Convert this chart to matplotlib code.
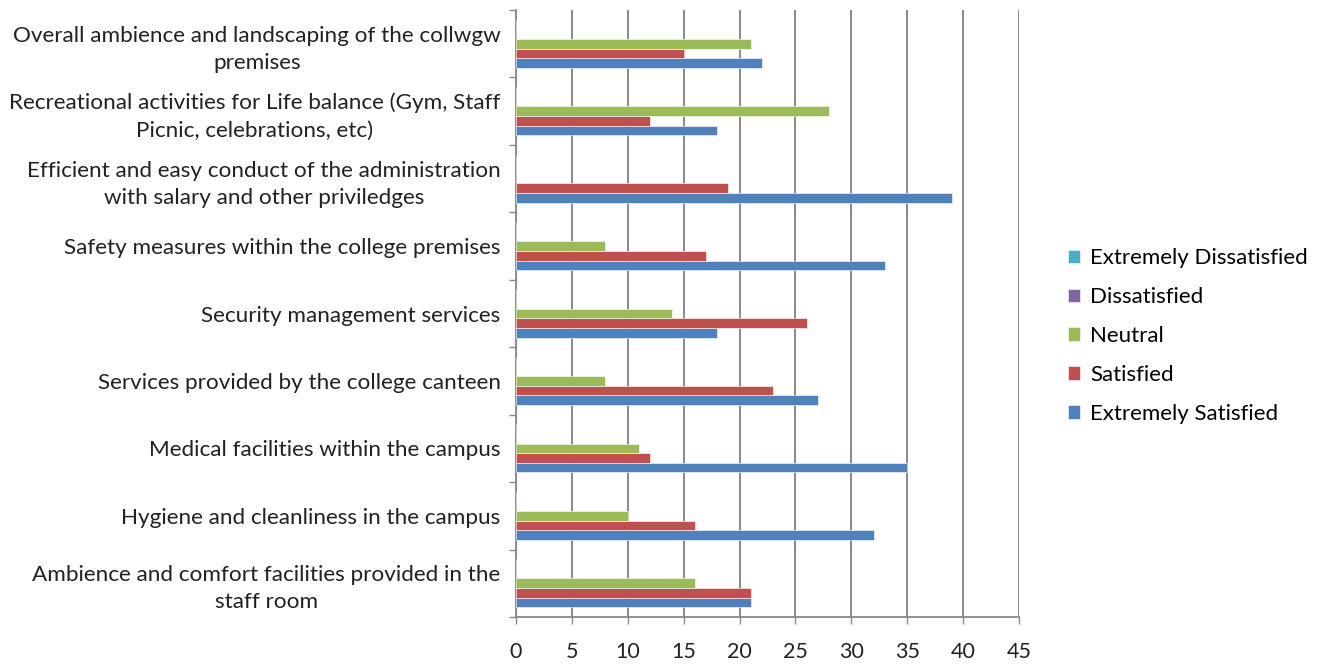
import matplotlib
matplotlib.use("Agg")
import matplotlib.pyplot as plt
import numpy as np

plt.rcParams["font.family"] = ["Lato", "DejaVu Sans"]

categories = [
    "Overall ambience and landscaping of the collwgw\npremises",
    "Recreational activities for Life balance (Gym, Staff\nPicnic, celebrations, etc)",
    "Efficient and easy conduct of the administration\nwith salary and other priviledges",
    "Safety measures within the college premises",
    "Security management services",
    "Services provided by the college canteen",
    "Medical facilities within the campus",
    "Hygiene and cleanliness in the campus",
    "Ambience and comfort facilities provided in the\nstaff room",
]
extremely_satisfied = [22, 18, 39, 33, 18, 27, 35, 32, 21]
satisfied = [15, 12, 19, 17, 26, 23, 12, 16, 21]
neutral = [21, 28, 0, 8, 14, 8, 11, 10, 16]
dissatisfied = [0, 0, 0, 0, 0, 0, 0, 0, 0]
extremely_dissatisfied = [0, 0, 0, 0, 0, 0, 0, 0, 0]

series = [
    ("Extremely Satisfied", extremely_satisfied, "#4F81BD"),
    ("Satisfied", satisfied, "#C0504D"),
    ("Neutral", neutral, "#9BBB59"),
    ("Dissatisfied", dissatisfied, "#8064A2"),
    ("Extremely Dissatisfied", extremely_dissatisfied, "#4BACC6"),
]

n = len(categories)
centers = np.arange(n)[::-1].astype(float)
h = 1.0 / 7.0

fig = plt.figure(figsize=(13.32, 6.64), dpi=100)
ax = fig.add_axes([516 / 1332, 1 - 617 / 664, (1019 - 516) / 1332, (617 - 10) / 664])

handles = []
for k, (name, vals, color) in enumerate(series):
    offs = (k - 2) * h
    b = ax.barh(centers + offs, vals, height=h, color=color, edgecolor="white",
                linewidth=0.4, label=name, zorder=3)
    handles.append(b)

ax.set_xlim(0, 45)
ax.set_ylim(-0.5, n - 0.5)
ax.set_xticks(np.arange(0, 46, 5))
ax.tick_params(axis="x", length=5, width=1, color="#888888", labelsize=15.5, pad=13, labelcolor="#222222")
ax.grid(axis="x", color="#7f7f7f", linewidth=1.3, zorder=0)

ax.set_yticks(centers)
ax.set_yticklabels(categories, multialignment="center", linespacing=1.45)
ax.set_yticks(np.arange(n + 1) - 0.5, minor=True)
ax.tick_params(axis="y", which="major", length=0, labelsize=16.2, pad=11, labelcolor="#222222")
ax.tick_params(axis="y", which="minor", length=5, width=1, color="#888888")

for s in ["top", "right"]:
    ax.spines[s].set_visible(False)
ax.spines["left"].set_color("#888888")
ax.spines["bottom"].set_color("#888888")
ax.spines["left"].set_linewidth(1.3)
ax.spines["bottom"].set_linewidth(1.3)

fig.legend(handles[::-1], [s[0] for s in series][::-1], loc="center left",
           bbox_to_anchor=(1048 / 1332, 1 - 336 / 664), frameon=False,
           fontsize=16, handlelength=0.55, handleheight=0.55, handletextpad=0.45,
           labelspacing=0.85)

fig.savefig("out.png", dpi=100)
